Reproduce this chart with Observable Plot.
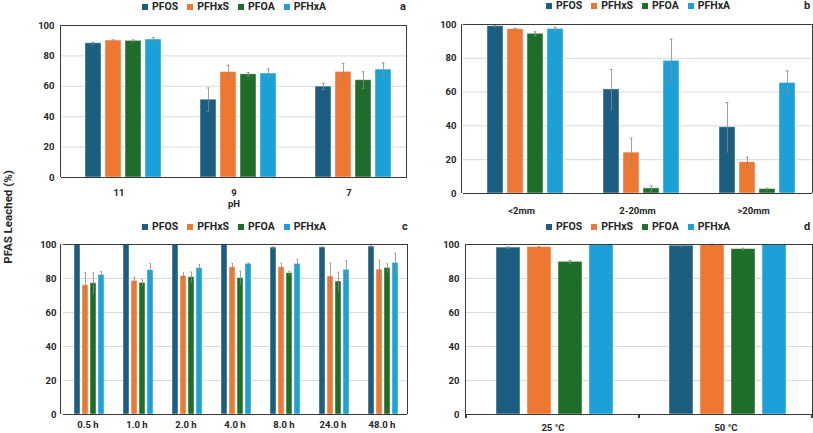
<!DOCTYPE html>
<html><head><meta charset="utf-8">
<script src="https://cdn.jsdelivr.net/npm/d3@7"></script>
<script src="https://cdn.jsdelivr.net/npm/@observablehq/plot@0.6"></script>
<style>
body{margin:0;background:#fff;font-family:Roboto,"Liberation Sans",sans-serif;}
#root{position:relative;width:813px;height:433px;overflow:hidden;background:#fff;}
.panel{position:absolute;z-index:1;}
.legend{position:absolute;display:flex;align-items:center;font-weight:bold;font-size:10.5px;color:#262626;white-space:nowrap;height:12px;line-height:12px;z-index:2;}
.sw{display:inline-block;width:6px;height:6px;margin-right:4px;}
.item{display:flex;align-items:center;margin-right:9px;}
.tag{position:absolute;font-weight:bold;font-size:11px;color:#262626;line-height:12px;z-index:2;}
.ylab{position:absolute;left:8px;top:217px;transform:translate(-50%,-50%) rotate(-90deg);font-weight:bold;font-size:11.5px;color:#262626;white-space:nowrap;z-index:2;}
.border{position:absolute;box-sizing:border-box;border-left:1.5px solid #3a3a3a;border-right:1.5px solid #3a3a3a;pointer-events:none;z-index:5;}
.etick{position:absolute;width:1.2px;height:4px;background:#3a3a3a;z-index:5;}
</style></head>
<body><div id="root"></div>
<script>
const series = ["PFOS","PFHxS","PFOA","PFHxA"];
const colors = ["#1b5e80","#ee7732","#1e6e2a","#1ba0d8"];

// Panel a: pH
const catsA = ["11","9","7"];
const meansA = [[88.3,51.2,59.8],[90.1,69.4,69.5],[89.9,67.9,64.0],[90.8,68.4,71.0]];
const errsA  = [[0.6,7.7,2.0],[0.5,4.4,5.5],[0.6,1.2,5.5],[1.2,3.0,4.4]];

// Panel b: particle size
const catsB = ["<2mm","2-20mm",">20mm"];
const meansB = [[99.0,61.6,39.2],[97.2,24.2,18.5],[94.5,3.0,2.6],[97.4,78.5,65.4]];
const errsB  = [[0.4,11.8,14.6],[0.5,8.5,3.0],[1.2,1.5,0.5],[1.0,12.8,7.2]];

// Panel c: time
const catsC = ["0.5 h","1.0 h","2.0 h","4.0 h","8.0 h","24.0 h","48.0 h"];
const meansC = [[100,100,100,100,98.2,98.3,98.8],[76.0,78.6,81.5,86.6,86.6,81.2,85.2],[77.2,77.4,80.8,80.2,83.1,78.2,86.2],[82.1,84.9,86.1,88.6,88.6,85.1,89.2]];
const errsC  = [[0,0,0,0,0.5,0.3,0.4],[7.5,2.2,1.8,2.2,2.4,7.8,5.5],[6.0,1.8,3.0,4.0,1.0,5.5,2.4],[2.0,4.0,2.0,0.5,2.6,5.5,5.5]];

// Panel d: temperature
const catsD = ["25 °C","50 °C"];
const meansD = [[98.2,99.3],[98.5,100],[89.8,97.3],[100,100]];
const errsD  = [[0.4,0.3],[0.2,0.2],[0.8,0.5],[0,0]];

const yTicks = [0,20,40,60,80,100];
const gridTicks = [20,40,60,80];
const PI = 0.22;

function rows(cats, means, errs){
  const out = [];
  cats.forEach((c,ci)=>series.forEach((s,si)=>out.push({cat:c, series:s, v:means[si][ci], e:errs[si][ci]})));
  return out;
}

const root = document.getElementById("root");
const frameStroke = {stroke:"#3a3a3a", strokeWidth:1.2, clip:false};

function panel(o){
  const data = rows(o.cats, o.means, o.errs);
  const withErr = data.filter(d=>d.e>0);
  const n = o.cats.length;
  const marks = [
    Plot.ruleY(gridTicks, {stroke:"#d9d9d9", strokeWidth:1}),
    Plot.barY(data, {fx:"cat", x:"series", y:"v", fill:"series", stroke:"#ffffff", strokeOpacity:0.55, strokeWidth:0.8}),
    Plot.ruleX(withErr, {fx:"cat", x:"series", y1:d=>d.v-d.e, y2:d=>d.v+d.e, stroke:"#8a8a8a", strokeWidth:0.8}),
    Plot.tickY(withErr, {fx:"cat", x:"series", y:d=>d.v+d.e, stroke:"#8a8a8a", strokeWidth:0.8, inset:o.capInset}),
    Plot.tickY(withErr, {fx:"cat", x:"series", y:d=>d.v-d.e, stroke:"#8a8a8a", strokeWidth:0.8, inset:o.capInset}),
    Plot.frame({anchor:"top", ...frameStroke}),
    Plot.frame({anchor:"bottom", ...frameStroke})
  ];
  const chart = Plot.plot({
    width:o.width, height:o.height,
    marginTop:o.mt, marginRight:o.mr, marginBottom:o.mb, marginLeft:o.ml,
    style:{fontFamily:"Roboto, 'Liberation Sans', sans-serif", fontSize:"9.5px", fontWeight:"bold", color:"#262626", background:"transparent"},
    fx:{domain:o.cats, padding:0, label:o.fxLabel ?? null, tickSize:0, tickPadding:o.tp, labelAnchor:"center", labelOffset:o.lo ?? 30},
    x:{domain:series, paddingInner:PI, paddingOuter:o.po, align:o.align, axis:null},
    y:{domain:[0,100], ticks:yTicks, tickSize:0, tickPadding:7, label:null},
    color:{domain:series, range:colors},
    marks
  });
  const div = document.createElement("div");
  div.className = "panel";
  div.style.left = o.left+"px"; div.style.top = o.top+"px";
  div.appendChild(chart);
  root.appendChild(div);

  // left / right sides of the plot frame, placed from the same margins
  const fl = o.left + o.ml, ft = o.top + o.mt;
  const fw = o.width - o.ml - o.mr, fh = o.height - o.mt - o.mb;
  const b = document.createElement("div");
  b.className = "border";
  b.style.left = (fl-0.75)+"px"; b.style.top = ft+"px";
  b.style.width = (fw+1.5)+"px"; b.style.height = fh+"px";
  root.appendChild(b);
  if (o.endTicks){
    for (let i=0;i<=n;i++){
      const t = document.createElement("div");
      t.className="etick";
      t.style.left = (fl + i*fw/n - 0.6)+"px";
      t.style.top = (ft+fh)+"px";
      root.appendChild(t);
    }
  }

  const lg = document.createElement("div");
  lg.className = "legend";
  lg.style.left = o.legX+"px"; lg.style.top = o.legY+"px";
  series.forEach((s,i)=>{
    const it = document.createElement("span"); it.className="item";
    const sw = document.createElement("span"); sw.className="sw"; sw.style.background=colors[i];
    it.appendChild(sw); it.appendChild(document.createTextNode(s));
    lg.appendChild(it);
  });
  root.appendChild(lg);

  const tag = document.createElement("div");
  tag.className="tag"; tag.textContent=o.tag;
  tag.style.left=o.tagX+"px"; tag.style.top=o.tagY+"px";
  root.appendChild(tag);
}

panel({cats:catsA, means:meansA, errs:errsA, left:0, top:0, width:410, height:215, mt:25, mr:4, mb:38, ml:61,
  po:0.915, align:0.6, tp:12, fxLabel:"pH", lo:29, capInset:6.5, legX:142, legY:1, tag:"a", tagX:400, tagY:1});
panel({cats:catsB, means:meansB, errs:errsB, left:405, top:0, width:408, height:225, mt:24, mr:1, mb:32, ml:57,
  po:0.915, align:0.6, tp:14, capInset:6.5, legX:546, legY:0, tag:"b", tagX:804, tagY:0});
panel({cats:catsC, means:meansC, errs:errsC, left:0, top:220, width:410, height:213, mt:24, mr:3, mb:19, ml:61,
  po:1.04, align:0.6, tp:7, capInset:2.3, legX:142, legY:221, tag:"c", tagX:402, tagY:221});
panel({cats:catsD, means:meansD, errs:errsD, left:405, top:220, width:408, height:213, mt:24, mr:1, mb:19, ml:61,
  po:0.86, align:0.53, tp:10, capInset:10.5, endTicks:true, legX:546, legY:221, tag:"d", tagX:804, tagY:221});

const yl = document.createElement("div");
yl.className="ylab"; yl.textContent="PFAS Leached (%)";
root.appendChild(yl);
</script>
</body></html>
